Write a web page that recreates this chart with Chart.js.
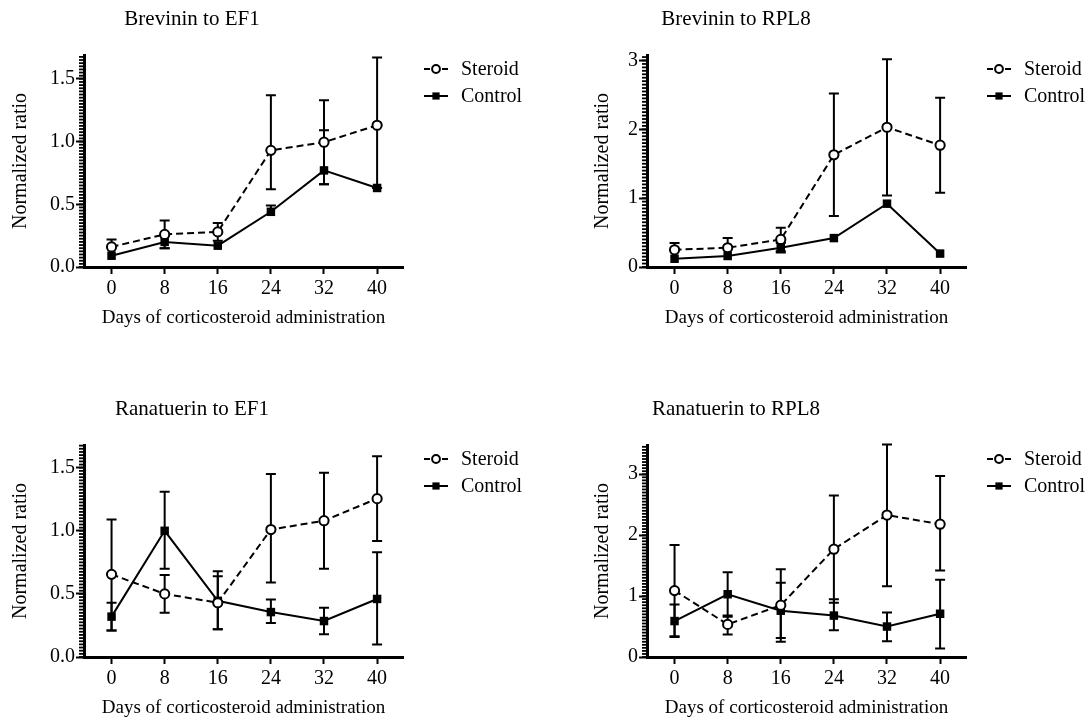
<!DOCTYPE html>
<html>
<head>
<meta charset="utf-8">
<script src="https://cdn.jsdelivr.net/npm/chart.js@4.4.0/dist/chart.umd.min.js"></script>
<style>
  body { margin: 0; background: #fff; width: 1088px; height: 719px; overflow: hidden; position: relative; }
  canvas { position: absolute; }
</style>
</head>
<body>
<canvas id="brevEf1" width="544" height="329" style="left:0;top:0"></canvas>
<canvas id="brevRpl8" width="544" height="329" style="left:544px;top:0"></canvas>
<canvas id="ranaEf1" width="544" height="329" style="left:0;top:390px"></canvas>
<canvas id="ranaRpl8" width="544" height="329" style="left:544px;top:390px"></canvas>
<script>
var days = [0, 8, 16, 24, 32, 40];
var seriesNames = ['Steroid', 'Control'];
var ef1Ticks = [0, 0.5, 1.0, 1.5];
var rpl8Ticks = [0, 1, 2, 3];

// Brevinin to EF1: means and error bar ends (ends equal to the mean = bar too short to show)
var brevEf1Steroid   = [0.16, 0.26, 0.28, 0.93, 0.995, 1.13];
var brevEf1SteroidHi = [0.22, 0.37, 0.35, 1.37, 1.33, 1.67];
var brevEf1SteroidLo = [0.16, 0.15, 0.21, 0.62, 0.66, 0.63];
var brevEf1Control   = [0.09, 0.20, 0.17, 0.44, 0.77, 0.63];
var brevEf1ControlHi = [0.09, 0.20, 0.17, 0.49, 1.09, 0.63];
var brevEf1ControlLo = [0.09, 0.15, 0.17, 0.44, 0.66, 0.63];

// Brevinin to RPL8
var brevRpl8Steroid   = [0.25, 0.28, 0.40, 1.63, 2.03, 1.77];
var brevRpl8SteroidHi = [0.35, 0.42, 0.57, 2.52, 3.02, 2.46];
var brevRpl8SteroidLo = [0.25, 0.28, 0.23, 0.74, 1.04, 1.08];
var brevRpl8Control   = [0.12, 0.16, 0.28, 0.42, 0.92, 0.195];
var brevRpl8ControlHi = [0.12, 0.16, 0.35, 0.42, 0.92, 0.195];
var brevRpl8ControlLo = [0.12, 0.16, 0.21, 0.42, 0.92, 0.195];

// Ranatuerin to EF1
var ranaEf1Steroid   = [0.655, 0.50, 0.43, 1.01, 1.08, 1.255];
var ranaEf1SteroidHi = [1.09, 0.65, 0.64, 1.45, 1.46, 1.59];
var ranaEf1SteroidLo = [0.21, 0.35, 0.22, 0.59, 0.70, 0.92];
var ranaEf1Control   = [0.32, 1.00, 0.445, 0.356, 0.285, 0.46];
var ranaEf1ControlHi = [0.43, 1.31, 0.68, 0.455, 0.39, 0.83];
var ranaEf1ControlLo = [0.21, 0.70, 0.22, 0.27, 0.18, 0.10];

// Ranatuerin to RPL8
var ranaRpl8Steroid   = [1.09, 0.535, 0.85, 1.77, 2.33, 2.18];
var ranaRpl8SteroidHi = [1.84, 0.66, 1.44, 2.65, 3.49, 2.97];
var ranaRpl8SteroidLo = [0.34, 0.37, 0.25, 0.89, 1.16, 1.42];
var ranaRpl8Control   = [0.59, 1.03, 0.76, 0.68, 0.50, 0.71];
var ranaRpl8ControlHi = [0.86, 1.39, 1.22, 0.95, 0.73, 1.27];
var ranaRpl8ControlLo = [0.33, 0.68, 0.31, 0.44, 0.26, 0.14];

var SERIF = "'Liberation Serif', 'Times New Roman', serif";

function points(vals) {
  return vals.map(function (v, i) { return { x: days[i], y: v }; });
}

// vertical error bars with caps, drawn under the lines and markers
var errorBars = {
  id: 'errorBars',
  beforeDatasetsDraw: function (chart) {
    var ctx = chart.ctx, xs = chart.scales.x, ys = chart.scales.y;
    ctx.save();
    ctx.strokeStyle = '#000';
    ctx.lineWidth = 2;
    chart.data.datasets.forEach(function (ds) {
      ds.data.forEach(function (p, i) {
        var px = xs.getPixelForValue(p.x);
        ctx.beginPath();
        [ds.errHi[i], ds.errLo[i]].forEach(function (end) {
          if (end === p.y) return;
          var py = ys.getPixelForValue(end);
          ctx.moveTo(px, ys.getPixelForValue(p.y)); ctx.lineTo(px, py);
          ctx.moveTo(px - 5, py); ctx.lineTo(px + 5, py);
        });
        ctx.stroke();
      });
    });
    ctx.restore();
  }
};

// comb of short minor ticks along the y axis
var minorTicks = {
  id: 'minorTicks',
  afterDraw: function (chart, args, opts) {
    var ys = chart.scales.y, ctx = chart.ctx;
    var x0 = chart.chartArea.left;
    ctx.save();
    ctx.strokeStyle = '#000';
    ctx.lineWidth = 1.8;
    for (var k = 0; k * opts.step <= ys.max + 1e-9; k++) {
      var py = ys.getPixelForValue(k * opts.step);
      ctx.beginPath();
      ctx.moveTo(x0, py);
      ctx.lineTo(x0 - 5, py);
      ctx.stroke();
    }
    ctx.restore();
  }
};

// panel heading
var panelTitle = {
  id: 'panelTitle',
  afterDraw: function (chart, args, opts) {
    var ctx = chart.ctx;
    ctx.save();
    ctx.fillStyle = '#000';
    ctx.font = '21px ' + SERIF;
    ctx.textAlign = 'center';
    ctx.textBaseline = 'middle';
    ctx.fillText(opts.text, opts.x, opts.y);
    ctx.restore();
  }
};

// key to the right of the plot: -o- Steroid, -■- Control
var seriesKey = {
  id: 'seriesKey',
  afterDraw: function (chart, args, opts) {
    var ctx = chart.ctx;
    var x0 = chart.chartArea.right + 21;
    chart.data.datasets.forEach(function (ds, i) {
      var y = opts.top + i * 27;
      ctx.save();
      ctx.strokeStyle = '#000';
      ctx.lineWidth = 2;
      ctx.beginPath();
      if (ds.borderDash && ds.borderDash.length) {
        ctx.moveTo(x0, y); ctx.lineTo(x0 + 6, y);
        ctx.moveTo(x0 + 18, y); ctx.lineTo(x0 + 24, y);
      } else {
        ctx.moveTo(x0, y); ctx.lineTo(x0 + 24, y);
      }
      ctx.stroke();
      ctx.fillStyle = ds.pointBackgroundColor;
      ctx.strokeStyle = '#000';
      ctx.lineWidth = ds.pointBorderWidth;
      Chart.helpers.drawPoint(ctx, {
        pointStyle: ds.pointStyle, radius: ds.pointRadius * 0.85, borderWidth: ds.pointBorderWidth, rotation: 0
      }, x0 + 12, y);
      ctx.fillStyle = '#000';
      ctx.font = '20px ' + SERIF;
      ctx.textAlign = 'left';
      ctx.textBaseline = 'middle';
      ctx.fillText(ds.label, x0 + 37, y + 1);
      ctx.restore();
    });
  }
};

function makePanel(id, title, s, sHi, sLo, c, cHi, cLo, yMax, yTicks, yMinor, decimals, yWidth, titlePad) {
  var canvas = document.getElementById(id);
  return new Chart(canvas, {
    type: 'line',
    data: {
      datasets: [{
        label: seriesNames[0],
        data: points(s),
        errHi: sHi,
        errLo: sLo,
        borderColor: '#000',
        borderWidth: 2,
        borderDash: [7, 4],
        pointStyle: 'circle',
        pointRadius: 4.6,
        pointBorderWidth: 2,
        pointBackgroundColor: '#fff',
        pointBorderColor: '#000',
        tension: 0
      }, {
        label: seriesNames[1],
        data: points(c),
        errHi: cHi,
        errLo: cLo,
        borderColor: '#000',
        borderWidth: 2,
        pointStyle: 'rect',
        pointRadius: 6,
        pointBorderWidth: 0,
        pointBackgroundColor: '#000',
        pointBorderColor: '#000',
        tension: 0
      }]
    },
    options: {
      responsive: false,
      animation: false,
      layout: { padding: { top: 55, right: 544 - yWidth - 319, left: 0, bottom: 0 } },
      scales: {
        x: {
          type: 'linear',
          min: -4.15,
          max: 43.9,
          afterFit: function (scale) { scale.height = 62; },
          afterBuildTicks: function (scale) {
            scale.ticks = days.map(function (d) { return { value: d }; });
          },
          grid: { drawOnChartArea: false, drawTicks: true, tickLength: 7, tickWidth: 2, tickColor: '#000' },
          border: { display: true, width: 3, color: '#000' },
          ticks: { color: '#000', padding: 3, font: { family: SERIF, size: 20 } },
          title: {
            display: true,
            text: 'Days of corticosteroid administration',
            color: '#000',
            padding: { top: 0, bottom: 0 },
            font: { family: SERIF, size: 19 }
          }
        },
        y: {
          min: 0,
          max: yMax,
          afterFit: function (scale) { scale.width = yWidth; },
          afterBuildTicks: function (scale) {
            scale.ticks = yTicks.map(function (v) { return { value: v }; });
          },
          grid: { drawOnChartArea: false, drawTicks: true, tickLength: 8, tickWidth: 2, tickColor: '#000' },
          border: { display: true, width: 3, color: '#000' },
          ticks: {
            color: '#000',
            padding: 1,
            font: { family: SERIF, size: 20 },
            callback: function (v) { return Number(v).toFixed(decimals); }
          },
          title: {
            display: true,
            text: 'Normalized ratio',
            color: '#000',
            padding: { top: titlePad, bottom: 0 },
            font: { family: SERIF, size: 20 }
          }
        }
      },
      plugins: {
        legend: { display: false },
        tooltip: { enabled: false },
        minorTicks: { step: yMinor },
        panelTitle: { text: title, x: 192, y: 19 },
        seriesKey: { top: 69 }
      }
    },
    plugins: [errorBars, minorTicks, panelTitle, seriesKey]
  });
}

makePanel('brevEf1', 'Brevinin to EF1',
  brevEf1Steroid, brevEf1SteroidHi, brevEf1SteroidLo,
  brevEf1Control, brevEf1ControlHi, brevEf1ControlLo,
  1.69, ef1Ticks, 0.025, 1, 84, 9);

makePanel('brevRpl8', 'Brevinin to RPL8',
  brevRpl8Steroid, brevRpl8SteroidHi, brevRpl8SteroidLo,
  brevRpl8Control, brevRpl8ControlHi, brevRpl8ControlLo,
  3.08, rpl8Ticks, 0.05, 0, 103, 47);

makePanel('ranaEf1', 'Ranatuerin to EF1',
  ranaEf1Steroid, ranaEf1SteroidHi, ranaEf1SteroidLo,
  ranaEf1Control, ranaEf1ControlHi, ranaEf1ControlLo,
  1.68, ef1Ticks, 0.025, 1, 84, 9);

makePanel('ranaRpl8', 'Ranatuerin to RPL8',
  ranaRpl8Steroid, ranaRpl8SteroidHi, ranaRpl8SteroidLo,
  ranaRpl8Control, ranaRpl8ControlHi, ranaRpl8ControlLo,
  3.48, rpl8Ticks, 0.05, 0, 103, 47);
</script>
</body>
</html>
